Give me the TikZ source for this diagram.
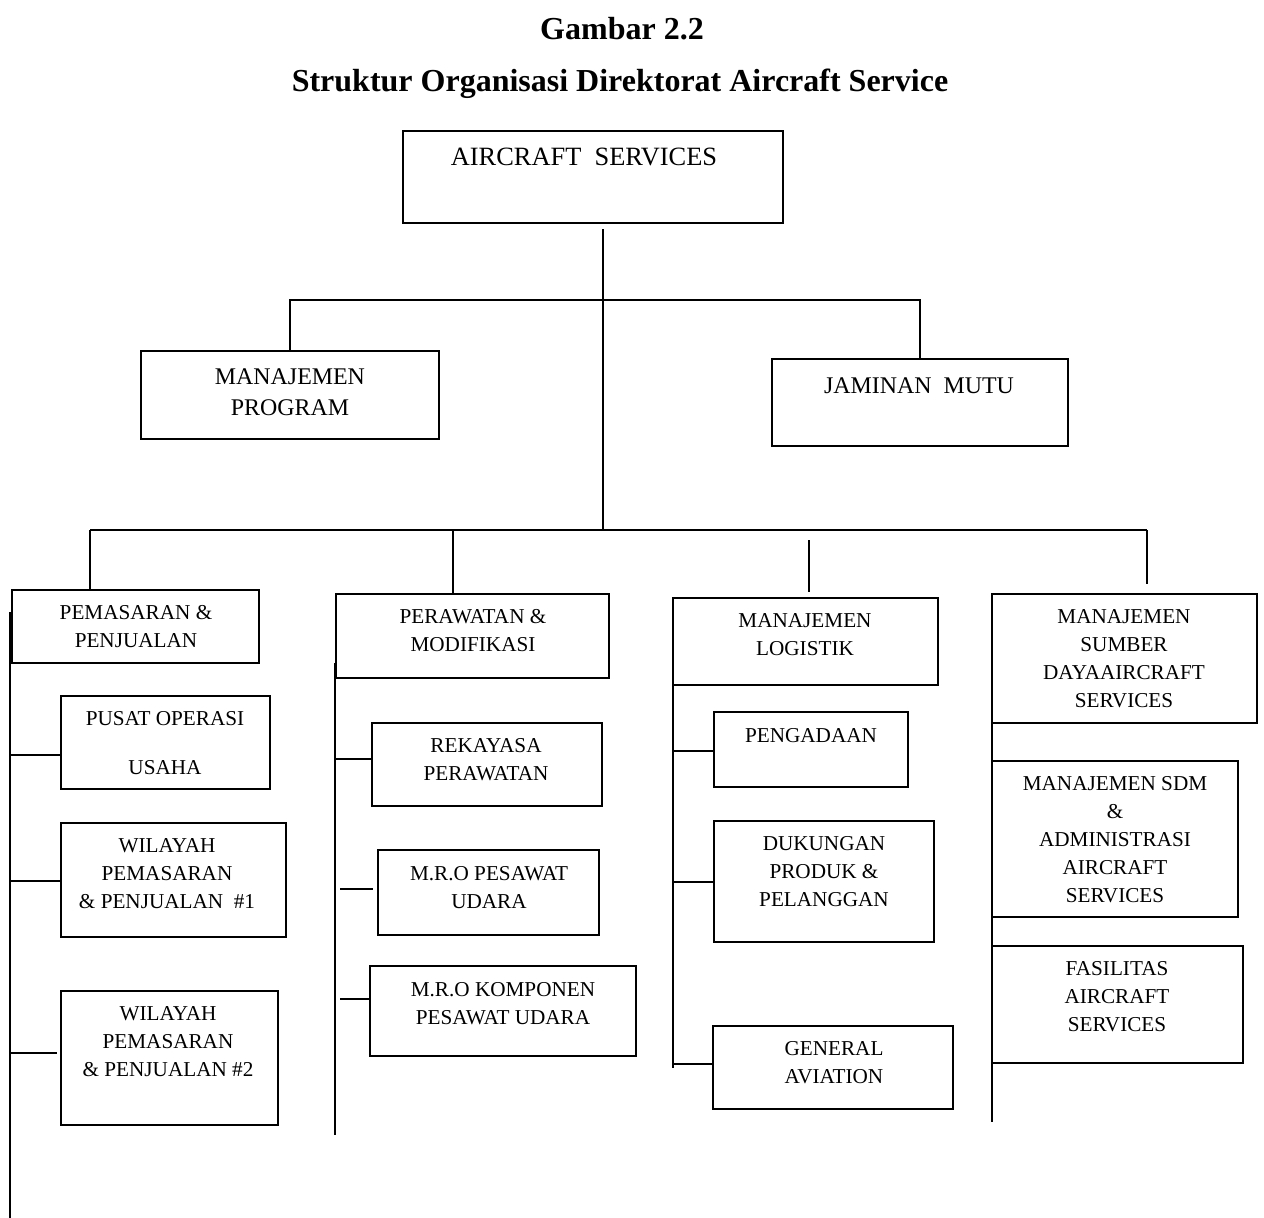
\documentclass[tikz,border=0pt]{standalone}
\usepackage{fontspec}
\setmainfont{Liberation Serif}
\usetikzlibrary{fit}
\tikzset{
  box/.style={draw, line width=1.8pt, inner sep=0pt},
  lbl/.style={align=center, inner sep=0pt, font=\fontsize{21.2}{28}\selectfont},
  lblm/.style={align=center, inner sep=0pt, font=\fontsize{23.9}{31}\selectfont},
  lblt/.style={align=center, inner sep=0pt, font=\fontsize{26.4}{32}\selectfont},
  ttl/.style={anchor=base, inner sep=0pt, font=\fontsize{32}{38}\selectfont\bfseries},
  conn/.style={line width=1.8pt},
}
\begin{document}
\begin{tikzpicture}[x=1pt,y=-1pt]
\path[fill=white, use as bounding box] (0,0) rectangle (1264,1218);

% titles
\node[ttl] (t1) at (622,39) {Gambar 2.2};
\node[ttl] (t2) at (620,91) {Struktur Organisasi Direktorat Aircraft Service};

% boxes
\node[box, fit={(403,131) (783,223)}] (top) {};
\node[box, fit={(141,351) (439,439)}] (mp) {};
\node[box, fit={(772,359) (1068,446)}] (jm) {};
\node[box, fit={(12,590) (259,663)}] (pp) {};
\node[box, fit={(61,696) (270,789)}] (pu) {};
\node[box, fit={(61,823) (286,937)}] (w1) {};
\node[box, fit={(61,991) (278,1125)}] (w2) {};
\node[box, fit={(336,594) (609,678)}] (pm) {};
\node[box, fit={(372,723) (602,806)}] (rk) {};
\node[box, fit={(378,850) (599,935)}] (mr) {};
\node[box, fit={(370,966) (636,1056)}] (mk) {};
\node[box, fit={(673,598) (938,685)}] (ml) {};
\node[box, fit={(714,712) (908,787)}] (pg) {};
\node[box, fit={(714,821) (934,942)}] (dk) {};
\node[box, fit={(713,1026) (953,1109)}] (ga) {};
\node[box, fit={(992,594) (1257,723)}] (ms) {};
\node[box, fit={(992,761) (1238,917)}] (sdm) {};
\node[box, fit={(992,946) (1243,1063)}] (fs) {};

% labels
\node[lblt] (Ltop) at (584,157) {AIRCRAFT\ \ SERVICES};
\node[lblm] (Lmp) at (290,392.5) {MANAJEMEN\\PROGRAM};
\node[lblm] (Ljm) at (919,386) {JAMINAN\ \ MUTU};
\node[lbl] (Lpp) at (136,627) {PEMASARAN \&\\PENJUALAN};
\node[lbl] (Lpu) at (165,743.5) {PUSAT OPERASI\\[21pt]USAHA};
\node[lbl] (Lw1) at (167,874) {WILAYAH\\PEMASARAN\\\& PENJUALAN\ \ \#1};
\node[lbl] (Lw2) at (168,1042) {WILAYAH\\PEMASARAN\\\& PENJUALAN \#2};
\node[lbl] (Lpm) at (473,631) {PERAWATAN \&\\MODIFIKASI};
\node[lbl] (Lrk) at (486,760) {REKAYASA\\PERAWATAN};
\node[lbl] (Lmr) at (489,888) {M.R.O PESAWAT\\UDARA};
\node[lbl] (Lmk) at (503,1004) {M.R.O KOMPONEN\\PESAWAT UDARA};
\node[lbl] (Lml) at (805,635) {MANAJEMEN\\LOGISTIK};
\node[lbl] (Lpg) at (811,736) {PENGADAAN};
\node[lbl] (Ldk) at (824,872) {DUKUNGAN\\PRODUK \&\\PELANGGAN};
\node[lbl] (Lga) at (834,1063) {GENERAL\\AVIATION};
\node[lbl] (Lms) at (1124,659) {MANAJEMEN\\SUMBER\\DAYAAIRCRAFT\\SERVICES};
\node[lbl] (Lsdm) at (1115,840) {MANAJEMEN SDM\\\&\\ADMINISTRASI\\AIRCRAFT\\SERVICES};
\node[lbl] (Lfs) at (1117,997) {FASILITAS\\AIRCRAFT\\SERVICES};

% main trunk
\coordinate (a0) at (603,229);
\coordinate (a1) at (603,530);
\draw[conn] (a0) -- (a1);
\draw[conn] (mp.north) -- ++(0,-50) -| (jm.north);

% lower bar
\coordinate (b1) at (90,530);
\coordinate (b2) at (453,530);
\coordinate (b3a) at (809,540);
\coordinate (b3b) at (809,592);
\coordinate (b4) at (1147,530);
\coordinate (b4b) at (1147,584);
\draw[conn] (b1) -- (b4);
\draw[conn] (b1) -- (b1 |- pp.north);
\draw[conn] (b2) -- (b2 |- pm.north);
\draw[conn] (b3a) -- (b3b);
\draw[conn] (b4) -- (b4b);

% spine 1
\coordinate (s1a) at (10,612);
\coordinate (s1b) at (10,1218);
\coordinate (r11) at (10,755);
\coordinate (r12) at (10,881);
\coordinate (r13) at (10,1053);
\coordinate (r13e) at (57,1053);
\draw[conn] (s1a) -- (s1b);
\draw[conn] (r11) -- (r11 -| pu.west);
\draw[conn] (r12) -- (r12 -| w1.west);
\draw[conn] (r13) -- (r13e);

% spine 2
\coordinate (s2a) at (335,663);
\coordinate (s2b) at (335,1135);
\coordinate (r21) at (335,759);
\coordinate (r22) at (340,889);
\coordinate (r22e) at (373,889);
\coordinate (r23) at (340,999);
\draw[conn] (s2a) -- (s2b);
\draw[conn] (r21) -- (r21 -| rk.west);
\draw[conn] (r22) -- (r22e);
\draw[conn] (r23) -- (r23 -| mk.west);

% spine 3
\coordinate (s3a) at (673,686);
\coordinate (s3b) at (673,1068);
\coordinate (r31) at (673,751);
\coordinate (r32) at (673,882);
\coordinate (r33) at (673,1064);
\draw[conn] (s3a) -- (s3b);
\draw[conn] (r31) -- (r31 -| pg.west);
\draw[conn] (r32) -- (r32 -| dk.west);
\draw[conn] (r33) -- (r33 -| ga.west);

% spine 4
\coordinate (s4a) at (992,660);
\coordinate (s4b) at (992,1122);
\draw[conn] (s4a) -- (s4b);
\end{tikzpicture}
\end{document}
